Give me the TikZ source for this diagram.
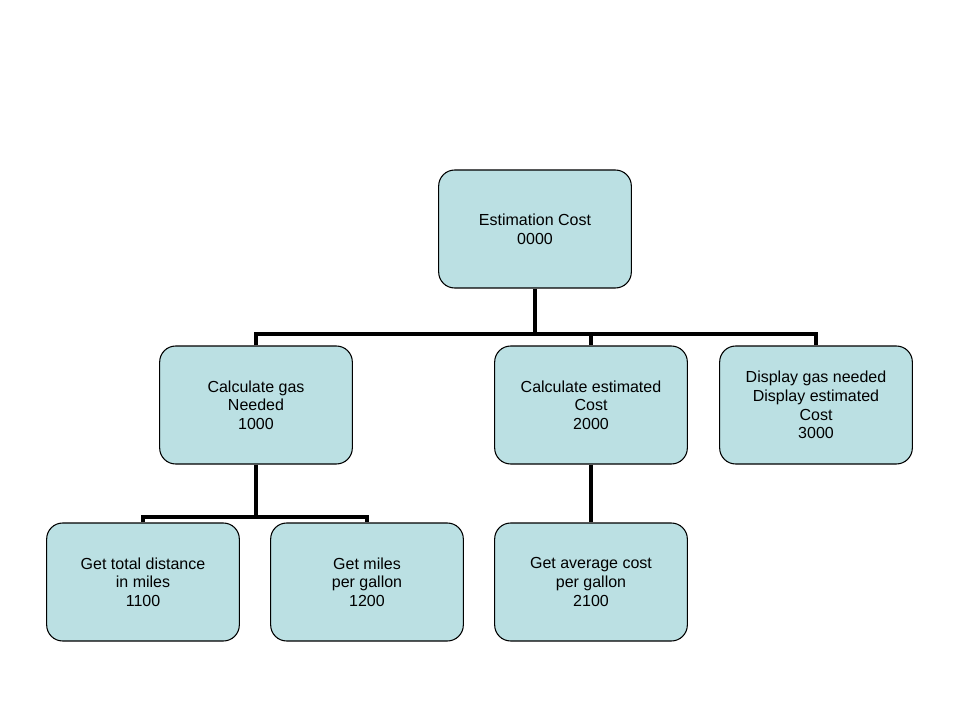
\documentclass[tikz,border=0pt]{standalone}
\usepackage{fontspec}
\setmainfont{Liberation Sans}
\definecolor{boxfill}{RGB}{187,224,227}
\begin{document}
\begin{tikzpicture}[x=0.75pt,y=-0.75pt,
  box/.style={draw=black,line width=0.8pt,fill=boxfill,rounded corners=12pt,minimum width=144.5pt,minimum height=88.5pt,align=center,font=\fontsize{12}{14}\selectfont,inner sep=1pt},
  conn/.style={line width=3.5pt}]
\useasboundingbox (0,0) rectangle (960,720);
\node[box] (r) at (535,229) {Estimation Cost\\0000};
\node[box] (a) at (256,405) {Calculate gas\\Needed\\1000};
\node[box] (b) at (591,405) {Calculate estimated\\Cost\\2000};
\node[box] (c) at (816,405) {Display gas needed\\Display estimated\\Cost\\3000};
\node[box] (a1) at (143,582) {Get total distance\\in miles\\1100};
\node[box] (a2) at (367,582) {Get miles\\per gallon\\1200};
\node[box] (b1) at (591,582) {Get average cost\\per gallon\\2100};
\coordinate (j) at (535,334);
\coordinate (k) at (256,517);
\draw[conn] (r.south) -- (j);
\draw[conn] (a.north) |- (j) -| (c.north);
\draw[conn] (b.north) -- (b.north |- j);
\draw[conn] (a.south) -- (k);
\draw[conn] (a1.north) |- (k) -| (a2.north);
\draw[conn] (b.south) -- (b1.north);
\end{tikzpicture}
\end{document}
